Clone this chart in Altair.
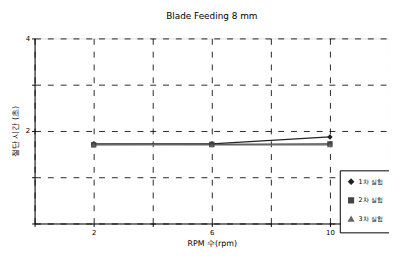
import altair as alt
import pandas as pd

rpm = [2, 6, 10]
series_names = ["1차 실험", "2차 실험", "3차 실험"]
s1 = [1.72, 1.72, 1.87]
s2 = [1.70, 1.71, 1.72]
s3 = [1.71, 1.70, 1.70]

rows = []
for name, vals in zip(series_names, [s1, s2, s3]):
    for r, v in zip(rpm, vals):
        rows.append({"rpm": r, "time": v, "series": name})
df = pd.DataFrame(rows)

base = alt.Chart(df).encode(
    x=alt.X("rpm:Q", scale=alt.Scale(domain=[0, 12], nice=False),
            axis=alt.Axis(values=[0, 2, 4, 6, 8, 10, 12], title="RPM 수(rpm)",
                          labelExpr="(datum.value==2||datum.value==6||datum.value==10) ? datum.label : ''",
                          grid=True, gridDash=[6, 7], gridColor="black", gridOpacity=0.85,
                          domainColor="black", tickColor="black", tickSize=3,
                          labelFontSize=7, titleFontSize=8, titleFontWeight="normal",
                          labelColor="black", titleColor="black", titlePadding=4)),
    y=alt.Y("time:Q", scale=alt.Scale(domain=[0, 4], nice=False),
            axis=alt.Axis(values=[0, 1, 2, 3, 4], title="절단 시간 (초)",
                          labelExpr="(datum.value==2||datum.value==4) ? datum.label : ''",
                          grid=True, gridDash=[6, 7], gridColor="black", gridOpacity=0.85,
                          domainColor="black", tickColor="black", tickSize=3,
                          labelFontSize=7, titleFontSize=8, titleFontWeight="normal",
                          labelColor="black", titleColor="black", titlePadding=6)),
    color=alt.Color("series:N", sort=series_names,
                    scale=alt.Scale(domain=series_names, range=["#222222", "#444444", "#666666"]),
                    legend=alt.Legend(title=None, orient="none", legendX=310, legendY=134,
                                      fillColor="white", strokeColor="black", padding=8,
                                      labelFontSize=6.5, symbolSize=22, rowPadding=8,
                                      labelColor="black")),
    shape=alt.Shape("series:N", sort=series_names,
                    scale=alt.Scale(domain=series_names, range=["diamond", "square", "triangle-up"]),
                    legend=None),
)

lines = base.mark_line(strokeWidth=1.3)
points = base.mark_point(filled=True, size=16)

chart = (lines + points).properties(
    width=360, height=188,
    title=alt.Title("Blade Feeding 8 mm", fontSize=9, fontWeight="normal", color="black", offset=14),
    padding={"left": 27, "top": 29, "right": 0, "bottom": 24},
    autosize=alt.AutoSizeParams(type="none"),
).configure_view(stroke="black", strokeWidth=1).configure(font="DejaVu Sans")

chart.save("out.html", embed_options={"renderer": "svg", "actions": False})
